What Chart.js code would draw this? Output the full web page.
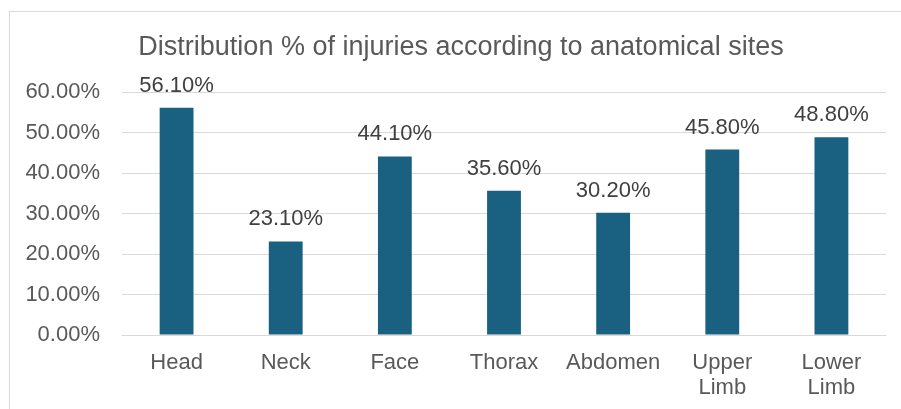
<!DOCTYPE html>
<html lang="en">
<head>
<meta charset="UTF-8" />
<title>Distribution % of injuries</title>
<script src="https://cdn.jsdelivr.net/npm/chart.js"></script>
<style>
  html, body {
    margin: 0;
    padding: 0;
    background: #fff;
    overflow: hidden;
  }
  #frame {
    position: absolute;
    left: 9px;
    top: 11px;
    width: 900px;
    height: 420px;
    border: 1px solid #d9d9d9;
    box-sizing: border-box;
  }
  #wrap {
    position: absolute;
    left: 0;
    top: 0;
    width: 901px;
    height: 409px;
  }
</style>
</head>
<body>
<div id="frame"></div>
<div id="wrap"><canvas id="chart"></canvas></div>

<script>
  // data
  const sites = ['Head', 'Neck', 'Face', 'Thorax', 'Abdomen', ['Upper', 'Limb'], ['Lower', 'Limb']];
  const percents = [56.1, 23.1, 44.1, 35.6, 30.2, 45.8, 48.8];
  const yTicks = [0, 10, 20, 30, 40, 50, 60];
  const chartTitle = 'Distribution % of injuries according to anatomical sites';

  const fontFamily = "'Liberation Sans', Arial, Helvetica, sans-serif";

  // title + value labels above the bars
  const barLabels = {
    id: 'barLabels',
    afterDatasetsDraw(chart) {
      const ctx = chart.ctx;
      const meta = chart.getDatasetMeta(0);
      ctx.save();
      ctx.font = '22px ' + fontFamily;
      ctx.fillStyle = '#404040';
      ctx.textAlign = 'center';
      ctx.textBaseline = 'alphabetic';
      meta.data.forEach((bar, i) => {
        ctx.fillText(percents[i].toFixed(2) + '%', bar.x, bar.y - 16);
      });
      // title, centred a bit right of the page like the original
      ctx.font = '27px ' + fontFamily;
      ctx.fillStyle = '#595959';
      ctx.fillText(chartTitle, 461, 55);
      ctx.restore();
    }
  };

  new Chart(document.getElementById('chart'), {
    type: 'bar',
    data: {
      labels: sites,
      datasets: [{
        data: percents,
        backgroundColor: '#1a6081',
        borderWidth: 0,
        categoryPercentage: 1,
        barPercentage: 0.31
      }]
    },
    options: {
      responsive: true,
      maintainAspectRatio: false,
      animation: false,
      layout: { padding: { left: 0, right: 15, top: 92, bottom: 0 } },
      plugins: {
        legend: { display: false },
        tooltip: { enabled: false },
        title: { display: false }
      },
      scales: {
        x: {
          grid: { display: false, drawTicks: false },
          border: { display: false },
          ticks: {
            color: '#595959',
            padding: 15,
            maxRotation: 0,
            autoSkip: false,
            font: { family: fontFamily, size: 22, lineHeight: 1.14 }
          },
          afterFit(scale) { scale.height = 74; }
        },
        y: {
          min: 0,
          max: 60,
          afterBuildTicks(scale) { scale.ticks = yTicks.map(v => ({ value: v })); },
          grid: { color: '#d9d9d9', lineWidth: 1, drawTicks: false },
          border: { display: false },
          ticks: {
            color: '#595959',
            padding: 22,
            font: { family: fontFamily, size: 22 },
            callback: v => v.toFixed(2) + '%'
          },
          afterFit(scale) { scale.width = 122; }
        }
      }
    },
    plugins: [barLabels]
  });
</script>
</body>
</html>
